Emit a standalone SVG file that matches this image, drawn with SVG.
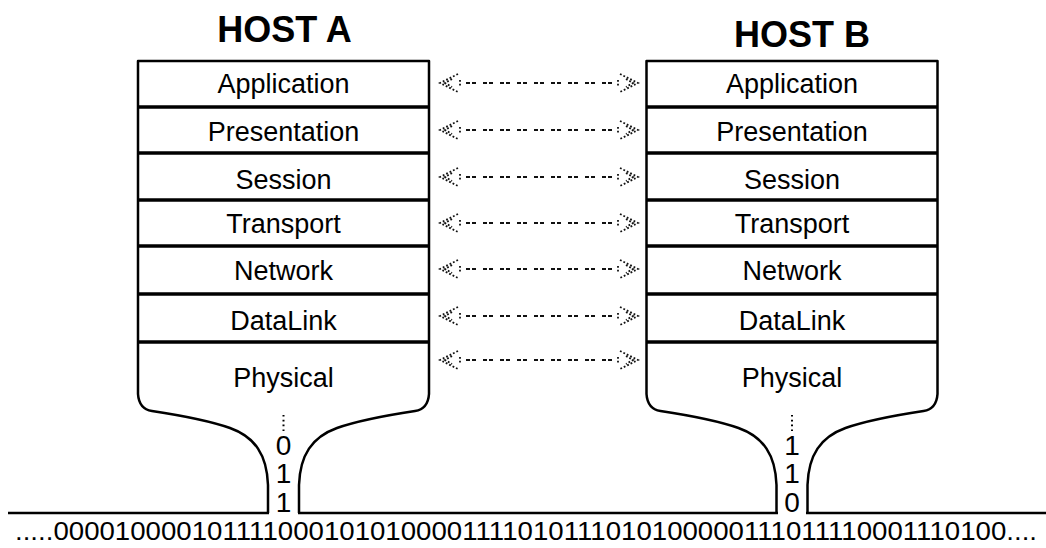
<svg xmlns="http://www.w3.org/2000/svg" width="1046" height="548" viewBox="0 0 1046 548">
<style>
.title{font-family:"Liberation Sans",Arial,sans-serif;font-size:36px;font-weight:bold;fill:#000;text-anchor:middle}
.lbl{font-family:"Liberation Sans",Arial,sans-serif;font-size:27px;fill:#000;text-anchor:middle}
.bit{font-family:"Liberation Sans",Arial,sans-serif;font-size:28px;fill:#000;text-anchor:middle}
.stream{font-family:"Liberation Sans",Arial,sans-serif;font-size:26px;fill:#000}
.outline{fill:none;stroke:#000;stroke-width:2.5;stroke-linejoin:round}
.sep{stroke:#000;stroke-width:3.5}
.ground{stroke:#000;stroke-width:2.5;fill:none}
.dash{stroke:#111;stroke-width:2;stroke-dasharray:4 2 4 7}
.head{fill:none;stroke:#111;stroke-width:1.8;stroke-dasharray:1.8 2}
.vdots{stroke:#000;stroke-width:2;stroke-dasharray:1.6 3.2}
</style>
<defs>
<g id="arrow">
<line class="dash" x1="466" y1="0" x2="612" y2="0"/>
<polyline class="head" points="458,-9 440,0 458,9"/>
<polyline class="head" points="452,-4 445,0 452,4"/>
<line class="head" x1="460" y1="-3" x2="460" y2="4"/>
<polyline class="head" points="620,-9 638,0 620,9"/>
<polyline class="head" points="626,-4 633,0 626,4"/>
<line class="head" x1="618" y1="-3" x2="618" y2="4"/>
</g>
</defs>
<rect width="1046" height="548" fill="#fff"/>

<g id="hostA">
<text class="title" x="284.5" y="42">HOST A</text>
<path class="outline" d="M268 513 L268 485 C267 455 255 437 230 428 C210 421 185 416 152 411 Q139 409 138 394 L138 61 L429 61 L429 394 Q428 409 415 411 C382 416 357 421 337 428 C312 437 300 455 299 485 L299 513"/>
<g id="hostA-application"><text class="lbl" x="283.5" y="93">Application</text><line class="sep" x1="138" y1="107" x2="429" y2="107"/></g>
<g id="hostA-presentation"><text class="lbl" x="283.5" y="141">Presentation</text><line class="sep" x1="138" y1="153" x2="429" y2="153"/></g>
<g id="hostA-session"><text class="lbl" x="283.5" y="189">Session</text><line class="sep" x1="138" y1="200" x2="429" y2="200"/></g>
<g id="hostA-transport"><text class="lbl" x="283.5" y="233">Transport</text><line class="sep" x1="138" y1="246" x2="429" y2="246"/></g>
<g id="hostA-network"><text class="lbl" x="283.5" y="280">Network</text><line class="sep" x1="138" y1="294" x2="429" y2="294"/></g>
<g id="hostA-datalink"><text class="lbl" x="283.5" y="330">DataLink</text><line class="sep" x1="138" y1="342" x2="429" y2="342"/></g>
<g id="hostA-physical"><text class="lbl" x="283.5" y="387">Physical</text></g>
<g id="hostA-bits">
<line class="vdots" x1="283.5" y1="415" x2="283.5" y2="432"/>
<text class="bit" x="283.5" y="455">0</text>
<text class="bit" x="283.5" y="483">1</text>
<text class="bit" x="283.5" y="512">1</text>
</g>
</g>

<g id="hostB">
<text class="title" x="802" y="47">HOST B</text>
<path class="outline" d="M776.5 513 L776.5 485 C775.5 455 763.5 437 738.5 428 C718.5 421 693.5 416 660.5 411 Q647.5 409 646.5 394 L646.5 61 L937.5 61 L937.5 394 Q936.5 409 923.5 411 C890.5 416 865.5 421 845.5 428 C820.5 437 808.5 455 807.5 485 L807.5 513"/>
<g id="hostB-application"><text class="lbl" x="792" y="93">Application</text><line class="sep" x1="646.5" y1="107" x2="937.5" y2="107"/></g>
<g id="hostB-presentation"><text class="lbl" x="792" y="141">Presentation</text><line class="sep" x1="646.5" y1="153" x2="937.5" y2="153"/></g>
<g id="hostB-session"><text class="lbl" x="792" y="189">Session</text><line class="sep" x1="646.5" y1="200" x2="937.5" y2="200"/></g>
<g id="hostB-transport"><text class="lbl" x="792" y="233">Transport</text><line class="sep" x1="646.5" y1="246" x2="937.5" y2="246"/></g>
<g id="hostB-network"><text class="lbl" x="792" y="280">Network</text><line class="sep" x1="646.5" y1="294" x2="937.5" y2="294"/></g>
<g id="hostB-datalink"><text class="lbl" x="792" y="330">DataLink</text><line class="sep" x1="646.5" y1="342" x2="937.5" y2="342"/></g>
<g id="hostB-physical"><text class="lbl" x="792" y="387">Physical</text></g>
<g id="hostB-bits">
<line class="vdots" x1="792" y1="415" x2="792" y2="432"/>
<text class="bit" x="792" y="455">1</text>
<text class="bit" x="792" y="483">1</text>
<text class="bit" x="792" y="512">0</text>
</g>
</g>

<g id="connectors">
<use href="#arrow" transform="translate(0,83)"/>
<use href="#arrow" transform="translate(0,130)"/>
<use href="#arrow" transform="translate(0,177)"/>
<use href="#arrow" transform="translate(0,223)"/>
<use href="#arrow" transform="translate(0,269)"/>
<use href="#arrow" transform="translate(0,316)"/>
<use href="#arrow" transform="translate(0,360)"/>
</g>

<g id="medium">
<polyline class="ground" points="8,513 269,513"/>
<polyline class="ground" points="298,513 778,513"/>
<polyline class="ground" points="806,513 1046,513"/>
<text class="stream" x="15" y="540" textLength="1022" lengthAdjust="spacingAndGlyphs">.....0000100001011110001010100001111010111010100000111011110001110100....</text>
</g>
</svg>
